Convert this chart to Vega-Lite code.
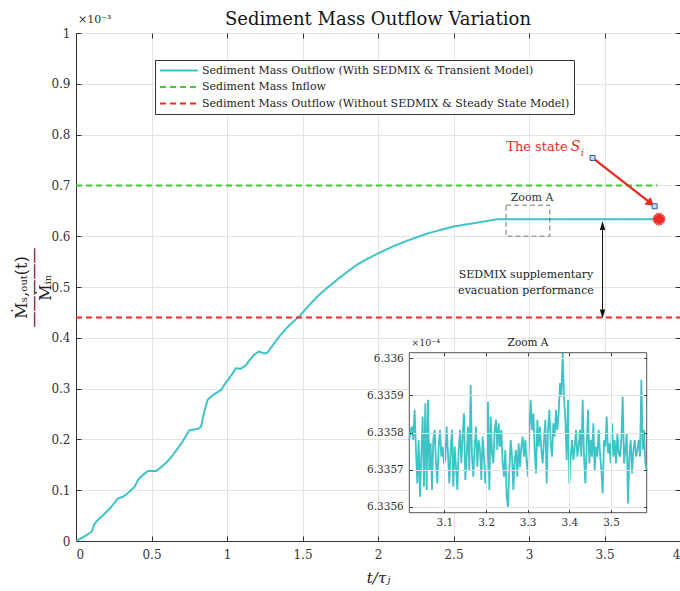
{
  "$schema": "https://vega.github.io/schema/vega-lite/v6.json",
  "width": 604,
  "height": 508,
  "autosize": "none",
  "padding": {"left": 76, "top": 33, "right": 0, "bottom": 50},
  "background": "white",
  "title": {"text": "Sediment Mass Outflow Variation", "font": "DejaVu Serif", "fontSize": 18, "fontWeight": "normal", "color": "#151515", "anchor": "middle", "frame": "group", "baseline": "alphabetic", "offset": -29},
  "config": {
    "font": "DejaVu Serif",
    "view": {"stroke": "#333", "strokeWidth": 1},
    "axis": {"labelFont": "DejaVu Serif", "labelColor": "#333", "labelFontSize": 12, "tickColor": "#333", "domainColor": "#333", "gridColor": "#e4e4e4", "tickSize": -5, "titleFont": "DejaVu Serif", "titleFontWeight": "normal", "titleColor": "#222"}
  },
  "datasets": {
    "main": [
      {"series": "Sediment Mass Outflow (With SEDMIX & Transient Model)", "t": 0, "v": 0},
      {"series": "Sediment Mass Outflow (With SEDMIX & Transient Model)", "t": 0.05, "v": 0.008},
      {"series": "Sediment Mass Outflow (With SEDMIX & Transient Model)", "t": 0.103, "v": 0.018},
      {"series": "Sediment Mass Outflow (With SEDMIX & Transient Model)", "t": 0.125, "v": 0.035},
      {"series": "Sediment Mass Outflow (With SEDMIX & Transient Model)", "t": 0.15, "v": 0.043},
      {"series": "Sediment Mass Outflow (With SEDMIX & Transient Model)", "t": 0.18, "v": 0.051},
      {"series": "Sediment Mass Outflow (With SEDMIX & Transient Model)", "t": 0.23, "v": 0.066},
      {"series": "Sediment Mass Outflow (With SEDMIX & Transient Model)", "t": 0.279, "v": 0.084},
      {"series": "Sediment Mass Outflow (With SEDMIX & Transient Model)", "t": 0.312, "v": 0.087},
      {"series": "Sediment Mass Outflow (With SEDMIX & Transient Model)", "t": 0.35, "v": 0.096},
      {"series": "Sediment Mass Outflow (With SEDMIX & Transient Model)", "t": 0.389, "v": 0.107},
      {"series": "Sediment Mass Outflow (With SEDMIX & Transient Model)", "t": 0.41, "v": 0.12},
      {"series": "Sediment Mass Outflow (With SEDMIX & Transient Model)", "t": 0.44, "v": 0.129},
      {"series": "Sediment Mass Outflow (With SEDMIX & Transient Model)", "t": 0.477, "v": 0.138},
      {"series": "Sediment Mass Outflow (With SEDMIX & Transient Model)", "t": 0.532, "v": 0.138},
      {"series": "Sediment Mass Outflow (With SEDMIX & Transient Model)", "t": 0.554, "v": 0.143},
      {"series": "Sediment Mass Outflow (With SEDMIX & Transient Model)", "t": 0.6, "v": 0.155},
      {"series": "Sediment Mass Outflow (With SEDMIX & Transient Model)", "t": 0.641, "v": 0.169},
      {"series": "Sediment Mass Outflow (With SEDMIX & Transient Model)", "t": 0.7, "v": 0.193},
      {"series": "Sediment Mass Outflow (With SEDMIX & Transient Model)", "t": 0.751, "v": 0.218},
      {"series": "Sediment Mass Outflow (With SEDMIX & Transient Model)", "t": 0.773, "v": 0.219},
      {"series": "Sediment Mass Outflow (With SEDMIX & Transient Model)", "t": 0.81, "v": 0.221},
      {"series": "Sediment Mass Outflow (With SEDMIX & Transient Model)", "t": 0.828, "v": 0.225},
      {"series": "Sediment Mass Outflow (With SEDMIX & Transient Model)", "t": 0.85, "v": 0.255},
      {"series": "Sediment Mass Outflow (With SEDMIX & Transient Model)", "t": 0.872, "v": 0.278},
      {"series": "Sediment Mass Outflow (With SEDMIX & Transient Model)", "t": 0.905, "v": 0.287},
      {"series": "Sediment Mass Outflow (With SEDMIX & Transient Model)", "t": 0.96, "v": 0.297},
      {"series": "Sediment Mass Outflow (With SEDMIX & Transient Model)", "t": 0.993, "v": 0.312},
      {"series": "Sediment Mass Outflow (With SEDMIX & Transient Model)", "t": 1.03, "v": 0.327},
      {"series": "Sediment Mass Outflow (With SEDMIX & Transient Model)", "t": 1.059, "v": 0.34},
      {"series": "Sediment Mass Outflow (With SEDMIX & Transient Model)", "t": 1.092, "v": 0.339},
      {"series": "Sediment Mass Outflow (With SEDMIX & Transient Model)", "t": 1.125, "v": 0.346},
      {"series": "Sediment Mass Outflow (With SEDMIX & Transient Model)", "t": 1.15, "v": 0.356},
      {"series": "Sediment Mass Outflow (With SEDMIX & Transient Model)", "t": 1.18, "v": 0.367},
      {"series": "Sediment Mass Outflow (With SEDMIX & Transient Model)", "t": 1.213, "v": 0.373},
      {"series": "Sediment Mass Outflow (With SEDMIX & Transient Model)", "t": 1.246, "v": 0.369},
      {"series": "Sediment Mass Outflow (With SEDMIX & Transient Model)", "t": 1.268, "v": 0.371},
      {"series": "Sediment Mass Outflow (With SEDMIX & Transient Model)", "t": 1.3, "v": 0.384},
      {"series": "Sediment Mass Outflow (With SEDMIX & Transient Model)", "t": 1.345, "v": 0.402},
      {"series": "Sediment Mass Outflow (With SEDMIX & Transient Model)", "t": 1.4, "v": 0.421},
      {"series": "Sediment Mass Outflow (With SEDMIX & Transient Model)", "t": 1.477, "v": 0.442},
      {"series": "Sediment Mass Outflow (With SEDMIX & Transient Model)", "t": 1.54, "v": 0.463},
      {"series": "Sediment Mass Outflow (With SEDMIX & Transient Model)", "t": 1.608, "v": 0.484},
      {"series": "Sediment Mass Outflow (With SEDMIX & Transient Model)", "t": 1.674, "v": 0.501},
      {"series": "Sediment Mass Outflow (With SEDMIX & Transient Model)", "t": 1.74, "v": 0.517},
      {"series": "Sediment Mass Outflow (With SEDMIX & Transient Model)", "t": 1.806, "v": 0.532},
      {"series": "Sediment Mass Outflow (With SEDMIX & Transient Model)", "t": 1.872, "v": 0.546},
      {"series": "Sediment Mass Outflow (With SEDMIX & Transient Model)", "t": 1.94, "v": 0.557},
      {"series": "Sediment Mass Outflow (With SEDMIX & Transient Model)", "t": 2.0, "v": 0.566},
      {"series": "Sediment Mass Outflow (With SEDMIX & Transient Model)", "t": 2.1, "v": 0.58},
      {"series": "Sediment Mass Outflow (With SEDMIX & Transient Model)", "t": 2.2, "v": 0.592},
      {"series": "Sediment Mass Outflow (With SEDMIX & Transient Model)", "t": 2.334, "v": 0.606},
      {"series": "Sediment Mass Outflow (With SEDMIX & Transient Model)", "t": 2.5, "v": 0.619},
      {"series": "Sediment Mass Outflow (With SEDMIX & Transient Model)", "t": 2.663, "v": 0.627},
      {"series": "Sediment Mass Outflow (With SEDMIX & Transient Model)", "t": 2.795, "v": 0.6336},
      {"series": "Sediment Mass Outflow (With SEDMIX & Transient Model)", "t": 3.861, "v": 0.6336},
      {"series": "Sediment Mass Inflow", "t": 0, "v": 0.7},
      {"series": "Sediment Mass Inflow", "t": 3.85, "v": 0.7},
      {"series": "Sediment Mass Outflow (Without SEDMIX & Steady State Model)", "t": 0, "v": 0.44},
      {"series": "Sediment Mass Outflow (Without SEDMIX & Steady State Model)", "t": 4, "v": 0.44}
    ],
    "zoom": [
      {"t":3.0160,"v":6.33578},{"t":3.0192,"v":6.335807},{"t":3.0224,"v":6.335816},{"t":3.0256,"v":6.33578},{"t":3.0288,"v":6.335861},{"t":3.0320,"v":6.335753},{"t":3.0352,"v":6.335663},{"t":3.0384,"v":6.33578},{"t":3.0416,"v":6.335627},{"t":3.0448,"v":6.335735},
      {"t":3.0480,"v":6.335843},{"t":3.0512,"v":6.335654},{"t":3.0544,"v":6.335879},{"t":3.0576,"v":6.335645},{"t":3.0608,"v":6.335888},{"t":3.0640,"v":6.335699},{"t":3.0672,"v":6.335771},{"t":3.0704,"v":6.335645},{"t":3.0736,"v":6.33578},{"t":3.0768,"v":6.335807},
      {"t":3.0800,"v":6.335717},{"t":3.0832,"v":6.335663},{"t":3.0864,"v":6.335762},{"t":3.0896,"v":6.335807},{"t":3.0928,"v":6.335735},{"t":3.0960,"v":6.335762},{"t":3.0992,"v":6.335717},{"t":3.1024,"v":6.335726},{"t":3.1056,"v":6.335816},{"t":3.1088,"v":6.335744},
      {"t":3.1120,"v":6.335663},{"t":3.1152,"v":6.335753},{"t":3.1184,"v":6.335807},{"t":3.1216,"v":6.335654},{"t":3.1248,"v":6.335762},{"t":3.1280,"v":6.335708},{"t":3.1312,"v":6.335645},{"t":3.1344,"v":6.335753},{"t":3.1376,"v":6.335807},{"t":3.1408,"v":6.335717},
      {"t":3.1440,"v":6.335789},{"t":3.1472,"v":6.335852},{"t":3.1504,"v":6.335672},{"t":3.1536,"v":6.335735},{"t":3.1568,"v":6.335816},{"t":3.1600,"v":6.335699},{"t":3.1632,"v":6.335928},{"t":3.1664,"v":6.335735},{"t":3.1696,"v":6.335681},{"t":3.1728,"v":6.335762},
      {"t":3.1760,"v":6.335816},{"t":3.1792,"v":6.335708},{"t":3.1824,"v":6.33578},{"t":3.1856,"v":6.335753},{"t":3.1888,"v":6.335672},{"t":3.1920,"v":6.335789},{"t":3.1952,"v":6.335735},{"t":3.1984,"v":6.335663},{"t":3.2016,"v":6.335699},{"t":3.2048,"v":6.335883},
      {"t":3.2080,"v":6.335645},{"t":3.2112,"v":6.335843},{"t":3.2144,"v":6.335744},{"t":3.2176,"v":6.335717},{"t":3.2208,"v":6.335807},{"t":3.2240,"v":6.335834},{"t":3.2272,"v":6.335753},{"t":3.2304,"v":6.335825},{"t":3.2336,"v":6.335762},{"t":3.2368,"v":6.335807},
      {"t":3.2400,"v":6.335717},{"t":3.2432,"v":6.335681},{"t":3.2464,"v":6.335753},{"t":3.2496,"v":6.335627},{"t":3.2528,"v":6.3356},{"t":3.2560,"v":6.335699},{"t":3.2592,"v":6.33578},{"t":3.2624,"v":6.335735},{"t":3.2656,"v":6.335645},{"t":3.2688,"v":6.335726},
      {"t":3.2720,"v":6.335753},{"t":3.2752,"v":6.335681},{"t":3.2784,"v":6.335771},{"t":3.2816,"v":6.335708},{"t":3.2848,"v":6.335762},{"t":3.2880,"v":6.335789},{"t":3.2912,"v":6.335735},{"t":3.2944,"v":6.33578},{"t":3.2976,"v":6.335717},{"t":3.3008,"v":6.335681},
      {"t":3.3040,"v":6.335807},{"t":3.3072,"v":6.335888},{"t":3.3104,"v":6.335807},{"t":3.3136,"v":6.335852},{"t":3.3168,"v":6.335753},{"t":3.3200,"v":6.33569},{"t":3.3232,"v":6.335834},{"t":3.3264,"v":6.335762},{"t":3.3296,"v":6.335816},{"t":3.3328,"v":6.335753},
      {"t":3.3360,"v":6.335717},{"t":3.3392,"v":6.33578},{"t":3.3424,"v":6.335834},{"t":3.3456,"v":6.335663},{"t":3.3488,"v":6.335807},{"t":3.3520,"v":6.335861},{"t":3.3552,"v":6.335771},{"t":3.3584,"v":6.335735},{"t":3.3616,"v":6.335825},{"t":3.3648,"v":6.335789},
      {"t":3.3680,"v":6.335861},{"t":3.3712,"v":6.335807},{"t":3.3744,"v":6.335852},{"t":3.3776,"v":6.335933},{"t":3.3808,"v":6.335897},{"t":3.3840,"v":6.336014},{"t":3.3872,"v":6.335897},{"t":3.3904,"v":6.335834},{"t":3.3936,"v":6.335726},{"t":3.3968,"v":6.335888},
      {"t":3.4000,"v":6.335663},{"t":3.4032,"v":6.335735},{"t":3.4064,"v":6.33578},{"t":3.4096,"v":6.335726},{"t":3.4128,"v":6.335762},{"t":3.4160,"v":6.335807},{"t":3.4192,"v":6.335735},{"t":3.4224,"v":6.335762},{"t":3.4256,"v":6.335807},{"t":3.4288,"v":6.335735},
      {"t":3.4320,"v":6.335888},{"t":3.4352,"v":6.335735},{"t":3.4384,"v":6.335663},{"t":3.4416,"v":6.335762},{"t":3.4448,"v":6.335861},{"t":3.4480,"v":6.335717},{"t":3.4512,"v":6.33578},{"t":3.4544,"v":6.335735},{"t":3.4576,"v":6.335825},{"t":3.4608,"v":6.335699},
      {"t":3.4640,"v":6.335762},{"t":3.4672,"v":6.335735},{"t":3.4704,"v":6.335807},{"t":3.4736,"v":6.335744},{"t":3.4768,"v":6.335699},{"t":3.4800,"v":6.335636},{"t":3.4832,"v":6.33578},{"t":3.4864,"v":6.335762},{"t":3.4896,"v":6.335843},{"t":3.4928,"v":6.335744},
      {"t":3.4960,"v":6.335771},{"t":3.4992,"v":6.335717},{"t":3.5024,"v":6.335825},{"t":3.5056,"v":6.335735},{"t":3.5088,"v":6.33578},{"t":3.5120,"v":6.335717},{"t":3.5152,"v":6.335798},{"t":3.5184,"v":6.335744},{"t":3.5216,"v":6.335735},{"t":3.5248,"v":6.33578},
      {"t":3.5280,"v":6.335897},{"t":3.5312,"v":6.335717},{"t":3.5344,"v":6.335753},{"t":3.5376,"v":6.335798},{"t":3.5408,"v":6.335609},{"t":3.5440,"v":6.335735},{"t":3.5472,"v":6.33578},{"t":3.5504,"v":6.33569},{"t":3.5536,"v":6.335753},{"t":3.5568,"v":6.33578},
      {"t":3.5600,"v":6.335735},{"t":3.5632,"v":6.335753},{"t":3.5664,"v":6.33578},{"t":3.5696,"v":6.335735},{"t":3.5728,"v":6.335942},{"t":3.5760,"v":6.335753},{"t":3.5792,"v":6.335807},{"t":3.5824,"v":6.335717},{"t":3.5856,"v":6.335699}
    ]
  },
  "layer": [
    {
      "layer": [
        {
          "data": {"name": "main"},
          "mark": {"type": "line", "strokeWidth": 2, "clip": true},
          "encoding": {
            "x": {"field": "t", "type": "quantitative", "scale": {"domain": [0, 4], "nice": false, "zero": false},
              "axis": {"orient": "bottom", "values": [0, 0.5, 1, 1.5, 2, 2.5, 3, 3.5, 4], "format": "~g", "labelPadding": 13, "grid": true, "title": "t/τⱼ", "titleFontStyle": "italic", "titleFontSize": 15, "titleX": 302, "titleY": 41, "titleBaseline": "alphabetic", "titleAlign": "center"}},
            "y": {"field": "v", "type": "quantitative", "scale": {"domain": [0, 1], "nice": false},
              "axis": {"orient": "left", "values": [0, 0.1, 0.2, 0.3, 0.4, 0.5, 0.6, 0.7, 0.8, 0.9, 1], "format": "~g", "labelPadding": 11, "grid": true, "title": ["Ṁₛ,ₒᵤₜ(t)", "—————", "Ṁᵢₙ"], "titleFontSize": 16, "titleX": -47, "titleY": 254, "titleAngle": -90, "titleBaseline": "bottom", "titleAlign": "center", "titleLineHeight": 12}},
            "color": {"field": "series", "type": "nominal",
              "scale": {"domain": ["Sediment Mass Outflow (With SEDMIX & Transient Model)", "Sediment Mass Inflow", "Sediment Mass Outflow (Without SEDMIX & Steady State Model)"], "range": ["#3EC3C7", "#3FCC35", "#EE2A24"]},
              "legend": {"orient": "none", "legendX": 79, "legendY": 27, "title": null, "symbolType": "stroke", "symbolSize": 1444, "symbolStrokeWidth": 2, "clipHeight": 13, "labelFont": "DejaVu Serif", "labelFontSize": 11, "labelColor": "#222", "labelLimit": 600, "labelOffset": 3, "fillColor": "white", "strokeColor": "#333", "padding": 4, "rowPadding": 3.5}},
            "strokeDash": {"field": "series", "type": "nominal",
              "scale": {"domain": ["Sediment Mass Outflow (With SEDMIX & Transient Model)", "Sediment Mass Inflow", "Sediment Mass Outflow (Without SEDMIX & Steady State Model)"], "range": [[1, 0], [6, 4], [6, 4]]},
              "legend": {"orient": "none", "legendX": 79, "legendY": 27, "title": null, "symbolType": "stroke", "symbolSize": 1444, "symbolStrokeWidth": 2, "clipHeight": 13, "labelFont": "DejaVu Serif", "labelFontSize": 11, "labelColor": "#222", "labelLimit": 600, "labelOffset": 3, "fillColor": "white", "strokeColor": "#333", "padding": 4, "rowPadding": 3.5}}
          }
        },
        {
          "data": {"values": [{}]},
          "mark": {"type": "text", "text": "×10⁻³", "align": "left", "baseline": "middle", "dx": 2, "dy": -13, "fontSize": 11, "color": "#333"},
          "encoding": {
            "x": {"datum": 0, "type": "quantitative", "axis": {"orient": "top", "values": [0, 0.5, 1, 1.5, 2, 2.5, 3, 3.5, 4], "labels": false, "grid": false, "domain": false, "title": null}},
            "y": {"datum": 1, "type": "quantitative", "axis": {"orient": "right", "values": [0, 0.1, 0.2, 0.3, 0.4, 0.5, 0.6, 0.7, 0.8, 0.9, 1], "labels": false, "grid": false, "domain": false, "title": null}}
          }
        },
        {
          "data": {"values": [{}]},
          "mark": {"type": "rect", "filled": false, "stroke": "#777", "strokeDash": [5, 3], "strokeWidth": 1},
          "encoding": {
            "x": {"datum": 2.848, "type": "quantitative", "axis": null}, "x2": {"datum": 3.138},
            "y": {"datum": 0.6, "type": "quantitative", "axis": null}, "y2": {"datum": 0.661}
          }
        },
        {
          "data": {"values": [{}]},
          "mark": {"type": "text", "text": "Zoom A", "align": "center", "baseline": "middle", "fontSize": 11, "color": "#333"},
          "encoding": {"x": {"datum": 3.02, "type": "quantitative", "axis": null}, "y": {"datum": 0.676, "type": "quantitative", "axis": null}}
        },
        {
          "data": {"values": [{}]},
          "mark": {"type": "rule", "color": "#E8291F", "strokeWidth": 2.2},
          "encoding": {
            "x": {"datum": 3.421, "type": "quantitative", "axis": null}, "x2": {"datum": 3.806},
            "y": {"datum": 0.754, "type": "quantitative", "axis": null}, "y2": {"datum": 0.665}
          }
        },
        {
          "data": {"values": [{}]},
          "mark": {"type": "point", "shape": "triangle-right", "angle": 38, "size": 90, "filled": true, "color": "#E8291F", "opacity": 1},
          "encoding": {"x": {"datum": 3.806, "type": "quantitative", "axis": null}, "y": {"datum": 0.665, "type": "quantitative", "axis": null}}
        },
        {
          "data": {"values": [{}]},
          "mark": {"type": "point", "shape": "square", "size": 25, "filled": true, "fill": "#c9d9f2", "stroke": "#3552a6", "strokeWidth": 1, "opacity": 1},
          "encoding": {"x": {"datum": 3.421, "type": "quantitative", "axis": null}, "y": {"datum": 0.754, "type": "quantitative", "axis": null}}
        },
        {
          "data": {"values": [{}]},
          "mark": {"type": "point", "shape": "square", "size": 25, "filled": true, "fill": "#c9d9f2", "stroke": "#3552a6", "strokeWidth": 1, "opacity": 1},
          "encoding": {"x": {"datum": 3.832, "type": "quantitative", "axis": null}, "y": {"datum": 0.659, "type": "quantitative", "axis": null}}
        },
        {
          "data": {"values": [{}]},
          "mark": {"type": "point", "shape": "M-1,0L1,0M0,-1L0,1M-0.7,-0.7L0.7,0.7M-0.7,0.7L0.7,-0.7M-0.38,-0.92L0.38,0.92M0.38,-0.92L-0.38,0.92M-0.92,-0.38L0.92,0.38M-0.92,0.38L0.92,-0.38", "size": 160, "filled": false, "stroke": "#EE2A24", "strokeWidth": 1.6, "opacity": 1},
          "encoding": {"x": {"datum": 3.861, "type": "quantitative", "axis": null}, "y": {"datum": 0.6336, "type": "quantitative", "axis": null}}
        },
        {
          "data": {"values": [{}]},
          "mark": {"type": "rule", "color": "#111", "strokeWidth": 1},
          "encoding": {
            "x": {"datum": 3.487, "type": "quantitative", "axis": null},
            "y": {"datum": 0.447, "type": "quantitative", "axis": null}, "y2": {"datum": 0.621}
          }
        },
        {
          "data": {"values": [{}]},
          "mark": {"type": "point", "shape": "M0,-1L0.6,1L-0.6,1Z", "size": 80, "filled": true, "color": "#111", "opacity": 1},
          "encoding": {"x": {"datum": 3.487, "type": "quantitative", "axis": null}, "y": {"datum": 0.621, "type": "quantitative", "axis": null}}
        },
        {
          "data": {"values": [{}]},
          "mark": {"type": "point", "shape": "M0,1L0.6,-1L-0.6,-1Z", "size": 80, "filled": true, "color": "#111", "opacity": 1},
          "encoding": {"x": {"datum": 3.487, "type": "quantitative", "axis": null}, "y": {"datum": 0.447, "type": "quantitative", "axis": null}}
        },
        {
          "data": {"values": [{}]},
          "mark": {"type": "text", "text": ["SEDMIX supplementary", "evacuation performance"], "align": "center", "baseline": "middle", "fontSize": 11, "lineHeight": 16, "color": "#222"},
          "encoding": {"x": {"datum": 2.98, "type": "quantitative", "axis": null}, "y": {"datum": 0.524, "type": "quantitative", "axis": null}}
        },
        {
          "data": {"values": [{}]},
          "mark": {"type": "text", "text": "The state", "align": "right", "baseline": "middle", "fontSize": 13, "color": "#E8291F"},
          "encoding": {"x": {"datum": 3.256, "type": "quantitative", "axis": null}, "y": {"datum": 0.776, "type": "quantitative", "axis": null}}
        },
        {
          "data": {"values": [{}]},
          "mark": {"type": "text", "text": "S", "align": "left", "baseline": "middle", "fontSize": 14, "fontStyle": "italic", "color": "#E8291F"},
          "encoding": {"x": {"datum": 3.276, "type": "quantitative", "axis": null}, "y": {"datum": 0.776, "type": "quantitative", "axis": null}}
        },
        {
          "data": {"values": [{}]},
          "mark": {"type": "text", "text": "i", "align": "left", "baseline": "middle", "fontSize": 10, "fontStyle": "italic", "color": "#E8291F"},
          "encoding": {"x": {"datum": 3.343, "type": "quantitative", "axis": null}, "y": {"datum": 0.764, "type": "quantitative", "axis": null}}
        }
      ],
      "resolve": {"axis": {"x": "independent", "y": "independent"}}
    },
    {
      "layer": [
        {
          "data": {"values": [{}]},
          "mark": {"type": "rect", "fill": "white", "stroke": "#555", "strokeWidth": 1},
          "encoding": {
            "x": {"datum": 3.016, "type": "quantitative", "scale": {"domain": [3.016, 3.5856], "range": [333.3, 570.7], "nice": false, "zero": false},
              "axis": {"orient": "top", "offset": -319.7, "values": [3.1, 3.2, 3.3, 3.4, 3.5], "labels": false, "grid": true, "domain": false, "tickSize": -3, "zindex": 1, "title": null}},
            "x2": {"datum": 3.5856},
            "y": {"datum": 6.335584, "type": "quantitative", "scale": {"domain": [6.335584, 6.336015], "range": [479.7, 319.7], "nice": false, "zero": false},
              "axis": {"orient": "right", "offset": -33.3, "values": [6.3356, 6.3357, 6.3358, 6.3359, 6.336], "labels": false, "grid": false, "domain": false, "tickSize": -3, "zindex": 1, "title": null}},
            "y2": {"datum": 6.336015}
          }
        },
        {
          "data": {"name": "zoom"},
          "mark": {"type": "line", "color": "#3EC3C7", "strokeWidth": 1.8},
          "encoding": {
            "x": {"field": "t", "type": "quantitative", "scale": {"domain": [3.016, 3.5856], "range": [333.3, 570.7], "nice": false, "zero": false},
              "axis": {"orient": "bottom", "offset": -28.3, "values": [3.1, 3.2, 3.3, 3.4, 3.5], "format": ".1f", "labelFontSize": 10.5, "labelPadding": 8, "tickSize": -3, "grid": false, "domain": false, "zindex": 1, "title": null}},
            "y": {"field": "v", "type": "quantitative", "scale": {"domain": [6.335584, 6.336015], "range": [479.7, 319.7], "nice": false, "zero": false},
              "axis": {"orient": "left", "offset": -333.3, "values": [6.3356, 6.3357, 6.3358, 6.3359, 6.336], "format": ".4~f", "labelFontSize": 10.5, "labelPadding": 9, "tickSize": -3, "grid": true, "domain": false, "zindex": 1, "title": null}}
          }
        },
        {
          "data": {"values": [{}]},
          "mark": {"type": "text", "text": "Zoom A", "align": "center", "baseline": "middle", "dy": -10, "fontSize": 10.5, "color": "#222"},
          "encoding": {"x": {"datum": 3.3008, "type": "quantitative", "axis": null}, "y": {"datum": 6.336015, "type": "quantitative", "axis": null}}
        },
        {
          "data": {"values": [{}]},
          "mark": {"type": "text", "text": "×10⁻⁴", "align": "left", "baseline": "middle", "dx": 2, "dy": -10, "fontSize": 9.5, "color": "#333"},
          "encoding": {"x": {"datum": 3.016, "type": "quantitative", "axis": null}, "y": {"datum": 6.336015, "type": "quantitative", "axis": null}}
        }
      ],
      "resolve": {"axis": {"x": "independent", "y": "independent"}}
    }
  ],
  "resolve": {"scale": {"x": "independent", "y": "independent"}}
}
